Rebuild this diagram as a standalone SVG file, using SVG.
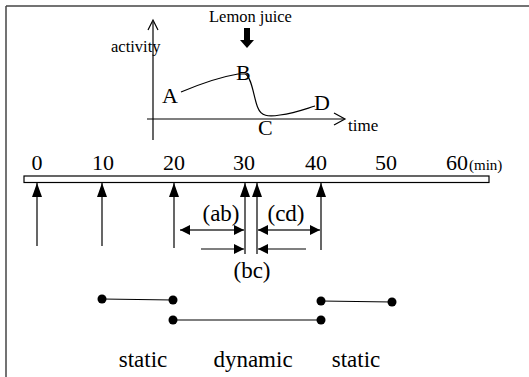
<svg xmlns="http://www.w3.org/2000/svg" width="529" height="377" viewBox="0 0 529 377" font-family="'Liberation Serif', 'DejaVu Serif', serif">
<style>
text{font-family:'Liberation Serif','DejaVu Serif',serif;fill:#000}
.ln{stroke:#000;stroke-width:1.2;fill:none}
.tick{font-size:22px;text-anchor:middle}
.lab{font-size:23px;text-anchor:middle}
.pt{font-size:22px}
</style>
<defs>
<marker id="ah" viewBox="0 0 10 10" refX="10" refY="5" markerWidth="10" markerHeight="10" markerUnits="userSpaceOnUse" orient="auto">
<path d="M0,0 L10,5 L0,10 Z" fill="#000"/>
</marker>
<marker id="au" viewBox="0 0 14 10" refX="14" refY="5" markerWidth="14" markerHeight="10" markerUnits="userSpaceOnUse" orient="auto">
<path d="M0,0 L14,5 L0,10 Z" fill="#000"/>
</marker>
</defs>
<g id="frame">
<line x1="6" y1="6" x2="529" y2="6" stroke="#444" stroke-width="1.5"/>
<line x1="6" y1="6" x2="6" y2="377" stroke="#444" stroke-width="1.5"/>
</g>
<g id="inset">
<line class="ln" x1="153" y1="22" x2="153" y2="140"/>
<path class="ln" d="M148,30 L153,20 L158,30"/>
<line class="ln" x1="147" y1="119" x2="344" y2="119"/>
<path class="ln" d="M334,113 L345,119 L334,125"/>
<text x="111" y="52" font-size="16.5">activity</text>
<text x="348" y="131" font-size="17">time</text>
<text x="209" y="22" font-size="16.5">Lemon juice</text>
<path d="M244,28 L250,28 L250,40 L254,40 L247,48 L240,40 L244,40 Z" fill="#000"/>
<path class="ln" d="M181,92 C200,84 220,77 238,74 L245,74 C252,76 254,100 258,108 C261,116 268,117 280,115 C295,113 305,109 315,106"/>
<text class="pt" x="162" y="103">A</text>
<text class="pt" x="236" y="80">B</text>
<text class="pt" x="258" y="135">C</text>
<text class="pt" x="314" y="110">D</text>
</g>
<g id="timeline">
<rect x="24" y="176" width="465" height="6.5" fill="#fff" stroke="#000" stroke-width="1.2"/>
<text class="tick" x="37" y="170">0</text>
<text class="tick" x="103" y="170">10</text>
<text class="tick" x="174" y="170">20</text>
<text class="tick" x="244" y="170">30</text>
<text class="tick" x="316" y="170">40</text>
<text class="tick" x="386" y="170">50</text>
<text class="tick" x="457" y="170">60</text>
<text x="469" y="170" font-size="15">(min)</text>
</g>
<g id="connectors">
<line class="ln" x1="37" y1="246" x2="37" y2="183" marker-end="url(#au)"/>
<line class="ln" x1="102" y1="246" x2="102" y2="183" marker-end="url(#au)"/>
<line class="ln" x1="174" y1="248" x2="174" y2="183" marker-end="url(#au)"/>
<line class="ln" x1="245" y1="254" x2="245" y2="183" marker-end="url(#au)"/>
<line class="ln" x1="257" y1="254" x2="257" y2="183" marker-end="url(#au)"/>
<line class="ln" x1="321" y1="250" x2="321" y2="183" marker-end="url(#au)"/>
<line class="ln" x1="212" y1="230" x2="180" y2="230" marker-end="url(#ah)"/>
<line class="ln" x1="212" y1="230" x2="244" y2="230" marker-end="url(#ah)"/>
<line class="ln" x1="288" y1="230" x2="258" y2="230" marker-end="url(#ah)"/>
<line class="ln" x1="288" y1="230" x2="320" y2="230" marker-end="url(#ah)"/>
<line class="ln" x1="201" y1="249" x2="244" y2="249" marker-end="url(#ah)"/>
<line class="ln" x1="306" y1="249" x2="258" y2="249" marker-end="url(#ah)"/>
</g>
<g id="labels">
<text class="lab" x="221" y="221">(ab)</text>
<text class="lab" x="286" y="221">(cd)</text>
<text class="lab" x="252" y="278">(bc)</text>
</g>
<g id="phases">
<line class="ln" x1="102" y1="299" x2="173" y2="300"/>
<line class="ln" x1="173" y1="320" x2="321" y2="320"/>
<line class="ln" x1="321" y1="301" x2="392" y2="302"/>
<circle cx="102" cy="299" r="4.5"/>
<circle cx="173" cy="300" r="4.5"/>
<circle cx="173" cy="320" r="4.5"/>
<circle cx="321" cy="320" r="4.5"/>
<circle cx="321" cy="301" r="4.5"/>
<circle cx="392" cy="302" r="4.5"/>
<text class="lab" x="143" y="367" font-size="24">static</text>
<text class="lab" x="253" y="367" font-size="24">dynamic</text>
<text class="lab" x="356" y="367" font-size="24">static</text>
</g>
</svg>
